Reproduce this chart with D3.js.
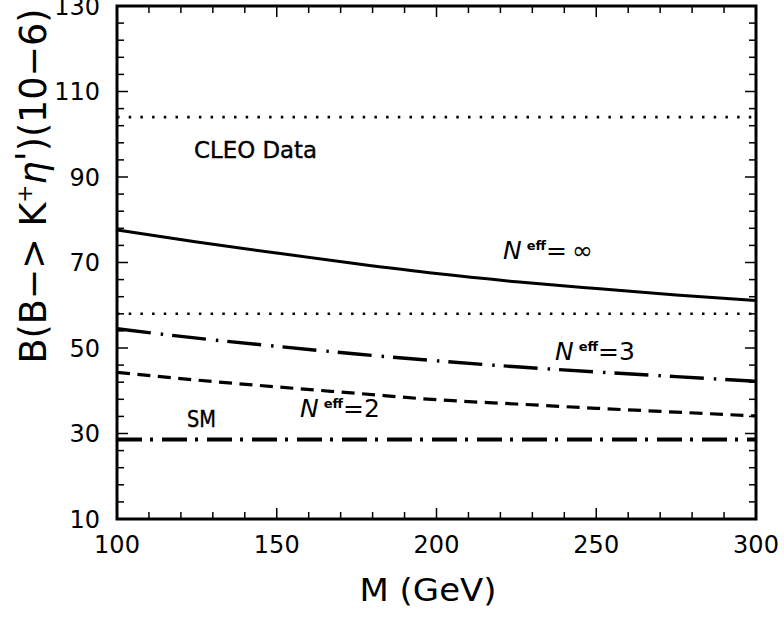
<!DOCTYPE html>
<html>
<head>
<meta charset="utf-8">
<script src="https://cdn.jsdelivr.net/npm/d3@7"></script>
<style>
  html, body { margin: 0; padding: 0; background: #fff; }
  svg { display: block; font-family: "DejaVu Sans", sans-serif; }
</style>
</head>
<body>
<svg id="chart" width="784" height="617"></svg>
<script>
// ---- data ----
const masses = [100, 125, 150, 175, 200, 225, 250, 275, 300];
const nInf = [77.6, 74.8, 72.2, 69.7, 67.4, 65.5, 63.9, 62.4, 61.1];
const n3   = [54.5, 52.3, 50.4, 48.6, 47.0, 45.6, 44.4, 43.3, 42.2];
const n2   = [44.3, 42.5, 40.9, 39.4, 37.9, 36.9, 35.9, 35.0, 34.1];
const sm   = [28.6, 28.6, 28.6, 28.6, 28.6, 28.6, 28.6, 28.6, 28.6];
const cleoBounds = [58, 104];
const xTicks = [100, 150, 200, 250, 300];
const yTicks = [10, 30, 50, 70, 90, 110, 130];

// ---- layout ----
const svg = d3.select("#chart");
const L = 117, R = 756, T = 6, B = 519;
const x = d3.scaleLinear().domain([100, 300]).range([L, R]);
const y = d3.scaleLinear().domain([10, 130]).range([B, T]);

const defs = svg.append("defs");
defs.append("clipPath").attr("id", "plotclip")
  .append("rect").attr("x", L).attr("y", T).attr("width", R - L).attr("height", B - T);

const plot = svg.append("g").attr("clip-path", "url(#plotclip)");

// CLEO data bounds (dotted)
plot.selectAll("line.cleo").data(cleoBounds).enter().append("line")
  .attr("class", "cleo")
  .attr("x1", x(100)).attr("x2", x(300))
  .attr("y1", d => y(d)).attr("y2", d => y(d))
  .attr("stroke", "#000").attr("stroke-width", 2.6)
  .attr("stroke-dasharray", "2.5,9.2").attr("stroke-linecap", "butt");

const line = d3.line().x((d, i) => x(masses[i])).y(d => y(d)).curve(d3.curveMonotoneX);

const series = [
  { vals: nInf, dash: null, w: 3 },
  { vals: n3, dash: "34,10,2.5,9", w: 3.4 },
  { vals: n2, dash: "13,7.5", w: 3.2 },
  { vals: sm, dash: "25,8,3,9", w: 3.8 }
];
series.forEach(s => {
  plot.append("path").datum(s.vals)
    .attr("d", line)
    .attr("fill", "none").attr("stroke", "#000")
    .attr("stroke-width", s.w)
    .attr("stroke-dasharray", s.dash);
});

// ---- axes (ticks inward on all four sides) ----
function tickLen(v, major) { return major ? 11 : 7; }
const xMinor = d3.range(100, 301, 10);
const yMinor = d3.range(10, 131, 4);
const axes = svg.append("g").attr("stroke", "#000").attr("stroke-width", 1.5);
xMinor.forEach(v => {
  const major = v % 50 === 0;
  const len = tickLen(v, major);
  axes.append("line").attr("x1", x(v)).attr("x2", x(v)).attr("y1", B).attr("y2", B - len);
  axes.append("line").attr("x1", x(v)).attr("x2", x(v)).attr("y1", T).attr("y2", T + len);
});
yMinor.forEach(v => {
  const major = (v - 10) % 20 === 0;
  const len = tickLen(v, major);
  axes.append("line").attr("y1", y(v)).attr("y2", y(v)).attr("x1", L).attr("x2", L + len);
  axes.append("line").attr("y1", y(v)).attr("y2", y(v)).attr("x1", R).attr("x2", R - len);
});

// frame
svg.append("rect").attr("x", L).attr("y", T).attr("width", R - L).attr("height", B - T)
  .attr("fill", "none").attr("stroke", "#000").attr("stroke-width", 3);

// tick labels
svg.selectAll("text.xt").data(xTicks).enter().append("text")
  .attr("class", "xt")
  .attr("x", d => x(d)).attr("y", 553)
  .attr("text-anchor", "middle").attr("font-size", 24)
  .text(d => d);
svg.selectAll("text.yt").data(yTicks).enter().append("text")
  .attr("class", "yt")
  .attr("x", 100).attr("y", d => y(d)).attr("dy", "0.36em")
  .attr("text-anchor", "end").attr("font-size", 24)
  .text(d => d);

// axis titles
svg.append("text").attr("x", 428).attr("y", 601)
  .attr("text-anchor", "middle").attr("font-size", 32)
  .attr("textLength", 137).attr("lengthAdjust", "spacingAndGlyphs")
  .text("M (GeV)");

const yt = svg.append("text")
  .attr("transform", "translate(46,186) rotate(-90)")
  .attr("text-anchor", "middle").attr("font-size", 37)
  .attr("textLength", 355).attr("lengthAdjust", "spacingAndGlyphs");
yt.append("tspan").text("B(B\u2212> K");
yt.append("tspan").attr("font-size", 22).attr("dy", -14).text("+");
yt.append("tspan").attr("dy", 14).attr("font-style", "italic").text("\u03B7");
yt.append("tspan").attr("dy", -4).text("'");
yt.append("tspan").attr("dy", 4).text(")(10\u22126)");

// annotations
svg.append("text").attr("x", 194).attr("y", 158)
  .attr("font-size", 23).attr("stroke", "#000").attr("stroke-width", 0.4)
  .attr("textLength", 123).attr("lengthAdjust", "spacingAndGlyphs")
  .text("CLEO Data");
svg.append("text").attr("x", 187).attr("y", 427)
  .attr("font-size", 23).attr("stroke", "#000").attr("stroke-width", 0.4)
  .attr("textLength", 29).attr("lengthAdjust", "spacingAndGlyphs")
  .text("SM");

function neff(xp, yp, tail) {
  const t = svg.append("text").attr("x", xp).attr("y", yp).attr("font-size", 25);
  t.append("tspan").attr("font-style", "italic").text("N");
  t.append("tspan").attr("dx", 5).attr("dy", -9).attr("font-size", 13)
    .attr("font-weight", "bold").text("eff");
  t.append("tspan").attr("dy", 9).text(tail);
}
neff(503, 259, "=\u2009\u221E");
neff(555, 360, "=3");
neff(300, 417, "=2");
</script>
</body>
</html>
